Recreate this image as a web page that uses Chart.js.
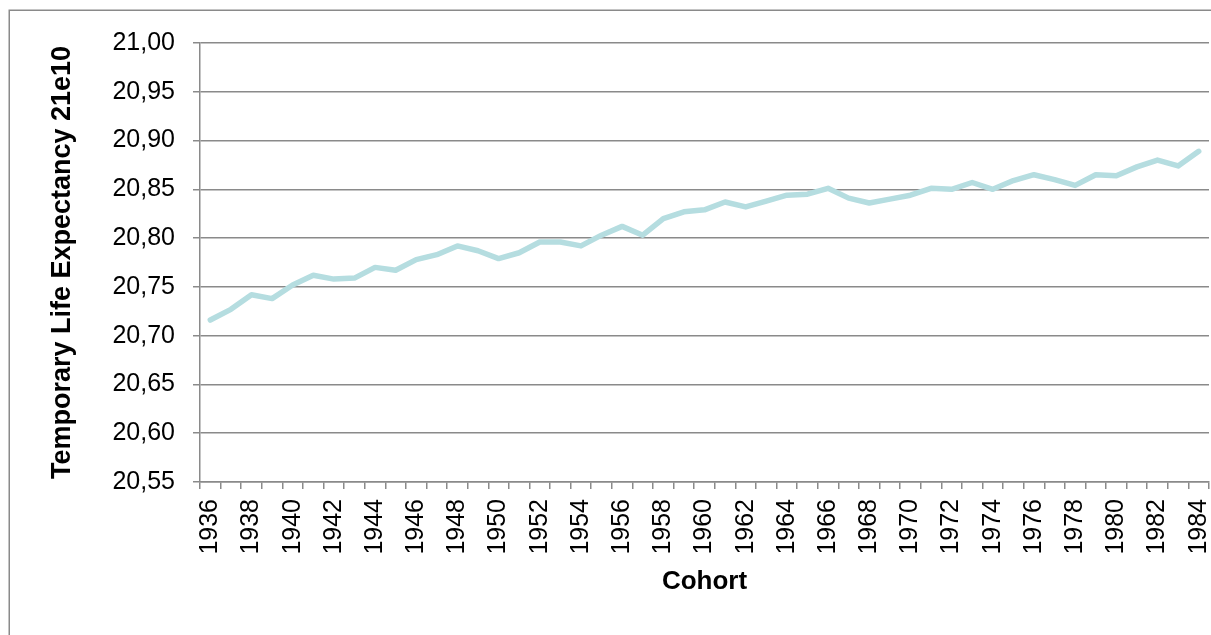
<!DOCTYPE html>
<html>
<head>
<meta charset="utf-8">
<script src="https://cdn.jsdelivr.net/npm/chart.js@4.4.1/dist/chart.umd.min.js"></script>
<style>
  html, body { margin: 0; padding: 0; background: #fff; overflow: hidden; }
  #wrap { position: absolute; left: 0; top: 0; width: 1211px; height: 635px; }
</style>
</head>
<body>
<div id="wrap"><canvas id="c" width="1211" height="635"></canvas></div>
<script>
const cohorts = [1936,1937,1938,1939,1940,1941,1942,1943,1944,1945,1946,1947,1948,1949,1950,1951,1952,1953,1954,1955,1956,1957,1958,1959,1960,1961,1962,1963,1964,1965,1966,1967,1968,1969,1970,1971,1972,1973,1974,1975,1976,1977,1978,1979,1980,1981,1982,1983,1984];
const lifeExpectancy = [20.716,20.727,20.742,20.738,20.752,20.762,20.758,20.759,20.770,20.767,20.778,20.783,20.792,20.787,20.779,20.785,20.796,20.796,20.792,20.803,20.812,20.803,20.820,20.827,20.829,20.837,20.832,20.838,20.844,20.845,20.851,20.841,20.836,20.840,20.844,20.851,20.850,20.857,20.850,20.859,20.865,20.860,20.854,20.865,20.864,20.873,20.880,20.874,20.889];
const yTickValues = [20.55,20.60,20.65,20.70,20.75,20.80,20.85,20.90,20.95,21.00];
const yTitle = 'Temporary Life Expectancy 21e10';
const xTitle = 'Cohort';

const frame = {
  id: 'frame',
  beforeDraw(chart) {
    const ctx = chart.ctx;
    ctx.save();
    ctx.strokeStyle = '#8a8a8a';
    ctx.lineWidth = 1.5;
    ctx.strokeRect(9.25, 10.25, 1400, 800);
    ctx.restore();
  }
};

new Chart(document.getElementById('c'), {
  type: 'line',
  data: {
    labels: cohorts.map(String),
    datasets: [{
      data: lifeExpectancy,
      borderColor: '#b5dde0',
      borderWidth: 5.5,
      pointRadius: 0,
      tension: 0,
      borderCapStyle: 'round',
      borderJoinStyle: 'round',
      fill: false
    }]
  },
  options: {
    responsive: false,
    animation: false,
    events: [],
    layout: { padding: { top: 43, right: 2, left: 0, bottom: 0 } },
    plugins: { legend: { display: false }, tooltip: { enabled: false } },
    scales: {
      x: {
        type: 'category',
        offset: true,
        afterFit(s) { s.height = 153; s.paddingLeft = 0; s.paddingRight = 0; },
        grid: { offset: true, drawOnChartArea: false, drawTicks: true, tickLength: 7, color: '#8a8a8a', lineWidth: 1.5 },
        border: { color: '#8a8a8a', width: 1.5 },
        ticks: {
          autoSkip: false,
          maxRotation: 90,
          minRotation: 90,
          padding: 10,
          color: '#000',
          font: { family: 'Liberation Sans, Arial, sans-serif', size: 25 },
          callback(v, i) { return i % 2 === 0 ? cohorts[i] : ''; }
        },
        title: {
          display: true,
          text: xTitle,
          color: '#000',
          font: { family: 'Liberation Sans, Arial, sans-serif', size: 26, weight: 'bold' },
          padding: { top: 0, bottom: 38 }
        }
      },
      y: {
        min: 20.55,
        max: 21.00,
        afterFit(s) { s.width = 200; s.paddingTop = 0; s.paddingBottom = 0; },
        afterBuildTicks(s) { s.ticks = yTickValues.map(v => ({ value: v })); },
        grid: { color: '#8a8a8a', lineWidth: 1.5, tickLength: 7 },
        border: { color: '#8a8a8a', width: 1.5 },
        ticks: {
          padding: 18,
          color: '#000',
          font: { family: 'Liberation Sans, Arial, sans-serif', size: 25 },
          callback(v) { return Number(v).toFixed(2).replace('.', ','); }
        },
        title: {
          display: true,
          text: yTitle,
          color: '#000',
          font: { family: 'Liberation Sans, Arial, sans-serif', size: 27, weight: 'bold' },
          padding: { top: 46, bottom: 0 }
        }
      }
    }
  },
  plugins: [frame]
});
</script>
</body>
</html>
